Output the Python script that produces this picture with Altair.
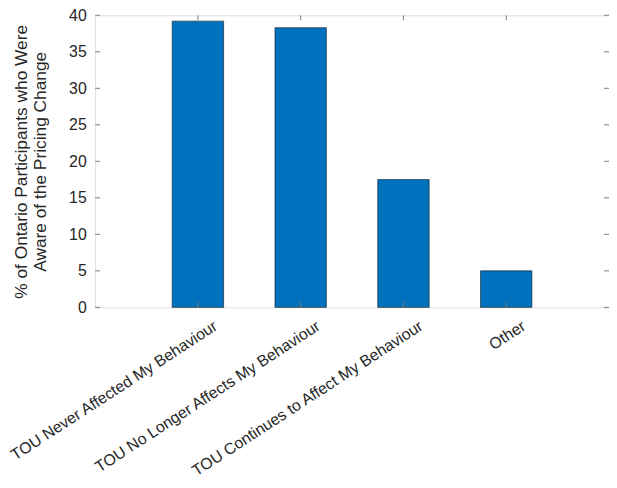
import altair as alt
import pandas as pd

categories = [
    "TOU Never Affected My Behaviour",
    "TOU No Longer Affects My Behaviour",
    "TOU Continues to Affect My Behaviour",
    "Other",
]
values = [39.2, 38.3, 17.5, 5.0]
y_ticks = [0, 5, 10, 15, 20, 25, 30, 35, 40]

TOP = 5
W, H = 519, 295
FONT = "Liberation Sans"
AX = "#7d7d7d"
TXT = "#262626"

bars_df = pd.DataFrame({"cat": categories, "val": values})
yt_df = pd.DataFrame({"v": y_ticks})

xscale = alt.Scale(domain=categories, paddingInner=0.5, paddingOuter=0.75)
yscale = alt.Scale(domain=[0, 40], nice=False)

xaxis = alt.Axis(labelAngle=-33, labelAlign="right", labelBaseline="middle",
                 labelPadding=17, labelOffset=18, tickSize=0, domain=False,
                 labelFont=FONT, labelFontSize=16, labelColor=TXT,
                 labelLimit=400, labelOverlap=False)
ytitle = ["% of Ontario Participants who Were", "Aware of the Pricing Change"]
yaxis = alt.Axis(values=y_ticks, tickSize=0, domain=False, grid=False,
                 labelPadding=9, labelFont=FONT, labelFontSize=16,
                 labelColor=TXT, labelOverlap=False, labelFlush=False,
                 titleFont=FONT, titleFontSize=17.5,
                 titleFontWeight="normal", titleColor=TXT,
                 titleAngle=270, titleAlign="center", titleBaseline="middle",
                 titleX=-74, titleY=H / 2, titleLineHeight=19)

bars = alt.Chart(bars_df).mark_bar(
    color="#0072BD", stroke="#1c2b3a", strokeWidth=0.7
).encode(
    x=alt.X("cat:N", scale=xscale, sort=categories, title=None, axis=xaxis),
    y=alt.Y("val:Q", scale=yscale, title=ytitle, axis=yaxis),
)

tl = 5
ytick_left = alt.Chart(yt_df).mark_rule(color=AX, strokeWidth=1).encode(
    y=alt.Y("v:Q", scale=yscale, title=ytitle, axis=yaxis), x=alt.value(0), x2=alt.value(tl))
ytick_right = alt.Chart(yt_df).mark_rule(color=AX, strokeWidth=1).encode(
    y=alt.Y("v:Q", scale=yscale, title=ytitle, axis=yaxis), x=alt.value(W - tl), x2=alt.value(W))
xtick_bot = alt.Chart(bars_df).mark_rule(color=AX, strokeWidth=1).encode(
    x=alt.X("cat:N", scale=xscale, sort=categories, title=None, axis=xaxis),
    y=alt.value(H - tl), y2=alt.value(H))
xtick_top = alt.Chart(bars_df).mark_rule(color=AX, strokeWidth=1).encode(
    x=alt.X("cat:N", scale=xscale, sort=categories, title=None, axis=xaxis),
    y=alt.value(0), y2=alt.value(tl))

chart = alt.layer(bars, ytick_left, ytick_right, xtick_bot, xtick_top).properties(
    width=W, height=H,
    autosize=alt.AutoSizeParams(type="none"),
    padding={"left": 88, "top": TOP, "right": 0, "bottom": 172},
).configure_view(stroke=AX, strokeWidth=1.2).configure(background="white")

chart.save("out.html", embed_options={"renderer": "svg", "actions": False})
